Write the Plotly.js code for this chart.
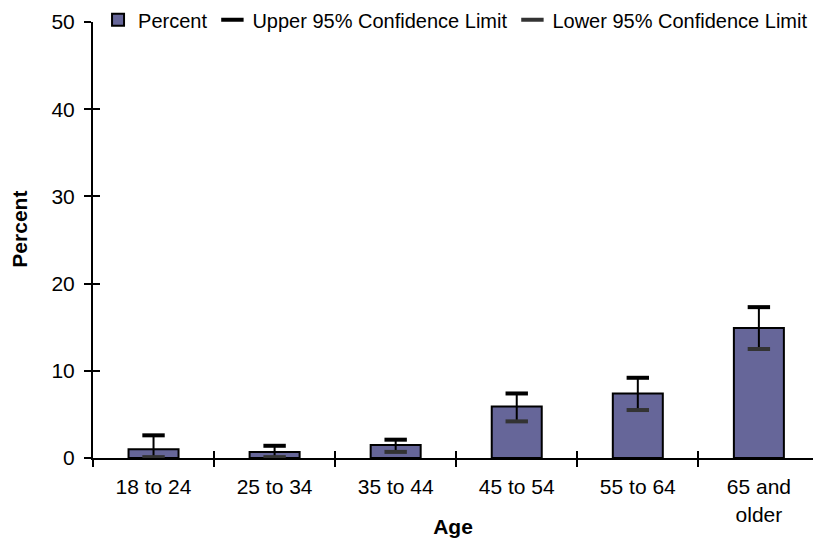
<!DOCTYPE html>
<html>
<head>
<meta charset="utf-8">
<script src="https://cdn.plot.ly/plotly-3.0.1.min.js"></script>
<style>
html,body{margin:0;padding:0;background:#fff;}
#chart{width:813px;height:538px;}
</style>
</head>
<body>
<div id="chart"></div>
<script>
const categories = ["18 to 24", "25 to 34", "35 to 44", "45 to 54", "55 to 64", "65 and<br>older"];
const percentValues = [1.0, 0.7, 1.5, 5.9, 7.4, 14.9];
const upperLimit = [2.6, 1.4, 2.1, 7.4, 9.2, 17.3];
const lowerLimit = [0.1, 0.1, 0.7, 4.2, 5.5, 12.5];
const yTicks = [0, 10, 20, 30, 40, 50];

const FONT = "Liberation Sans, Arial, Helvetica, sans-serif";

const traces = [
  {
    type: "bar",
    name: "Percent",
    x: categories,
    y: percentValues,
    marker: {color: "#666699", line: {color: "#000000", width: 2}},
    error_y: {
      type: "data",
      symmetric: false,
      array: upperLimit.map((u, i) => u - percentValues[i]),
      arrayminus: percentValues.map((v, i) => v - lowerLimit[i]),
      width: 0,
      thickness: 2,
      color: "#000000"
    },
    hoverinfo: "x+y"
  },
  {
    type: "scatter",
    mode: "markers",
    name: "Upper 95% Confidence Limit",
    x: categories,
    y: upperLimit,
    marker: {symbol: "line-ew", size: 16, color: "#000000", line: {color: "#000000", width: 4}}
  },
  {
    type: "scatter",
    mode: "markers",
    name: "Lower 95% Confidence Limit",
    x: categories,
    y: lowerLimit,
    marker: {symbol: "line-ew", size: 16, color: "#333333", line: {color: "#333333", width: 4}}
  }
];

const xRange = [-0.5, 5.447];
const layout = {
  width: 813,
  height: 538,
  margin: {l: 93, r: 0, t: 22, b: 80, pad: 0, autoexpand: false},
  paper_bgcolor: "#ffffff",
  plot_bgcolor: "#ffffff",
  font: {family: FONT, size: 20, color: "#000000"},
  bargap: 0.587,
  showlegend: true,
  legend: {
    orientation: "h",
    x: 0.007,
    xanchor: "left",
    y: 1.005,
    yanchor: "middle",
    font: {family: FONT, size: 20, color: "#000000"},
    bgcolor: "rgba(0,0,0,0)",
    itemwidth: 30,
    tracegroupgap: 0
  },
  annotations: [
    {
      text: "<b>Percent</b>",
      xref: "paper", yref: "paper",
      x: -0.102, y: 0.525,
      xanchor: "center", yanchor: "middle",
      textangle: -90,
      showarrow: false,
      font: {family: FONT, size: 21, color: "#000000"}
    }
  ],
  xaxis: {
    type: "category",
    range: xRange,
    showline: true,
    linecolor: "#000000",
    linewidth: 2,
    ticks: "outside",
    tickson: "boundaries",
    ticklen: 7,
    tickwidth: 2,
    tickcolor: "#000000",
    showgrid: false,
    zeroline: false,
    tickfont: {family: FONT, size: 21, color: "#000000"},
    ticklabelstandoff: 9,
    automargin: false,
    title: {text: "<b>Age</b>", font: {family: FONT, size: 21, color: "#000000"}, standoff: 4}
  },
  xaxis2: {
    overlaying: "x",
    anchor: "y",
    range: xRange,
    tickmode: "array",
    tickvals: [-0.5, 0.5, 1.5, 2.5, 3.5, 4.5],
    ticks: "inside",
    ticklen: 7,
    tickwidth: 2,
    tickcolor: "#000000",
    showticklabels: false,
    showline: false,
    showgrid: false,
    zeroline: false
  },
  yaxis: {
    range: [0, 50],
    tickmode: "array",
    tickvals: yTicks,
    showline: true,
    linecolor: "#000000",
    linewidth: 2,
    ticks: "outside",
    ticklen: 7,
    tickwidth: 2,
    tickcolor: "#000000",
    showgrid: false,
    zeroline: false,
    tickfont: {family: FONT, size: 21, color: "#000000"},
    ticklabelstandoff: 5,
    automargin: false
  },
  yaxis2: {
    overlaying: "y",
    anchor: "x",
    side: "left",
    range: [0, 50],
    tickmode: "array",
    tickvals: yTicks,
    ticks: "inside",
    ticklen: 7,
    tickwidth: 2,
    tickcolor: "#000000",
    showticklabels: false,
    showline: false,
    showgrid: false,
    zeroline: false
  }
};

// empty helper trace so the overlay tick axes are drawn
traces.push({type: "scatter", x: [], y: [], xaxis: "x2", yaxis: "y2", showlegend: false, hoverinfo: "skip"});

Plotly.newPlot("chart", traces, layout, {displayModeBar: false, staticPlot: true});
</script>
</body>
</html>
